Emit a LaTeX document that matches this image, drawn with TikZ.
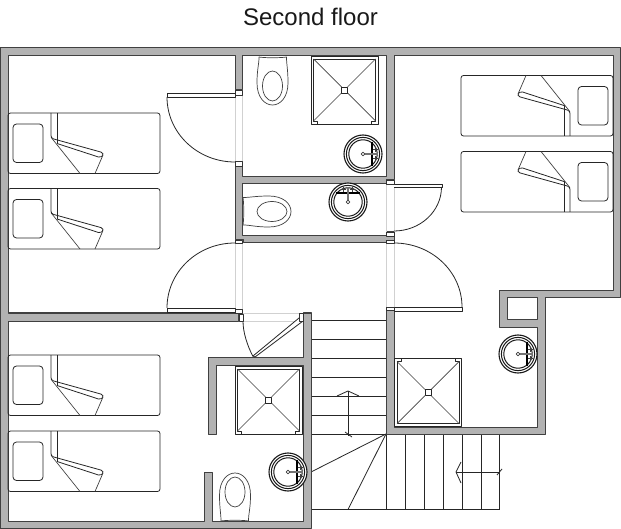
\documentclass[tikz,border=0pt]{standalone}
\usepackage{fontspec}
\setmainfont{Liberation Sans}
\begin{document}
\begin{tikzpicture}[x=1pt,y=-1pt,line join=round,
  ln/.style={draw=black!85,line width=0.8pt},
  thin ln/.style={draw=black!75,line width=0.7pt},
  wallstyle/.style={draw=black!75,line width=1pt,fill=black!30,even odd rule},
  opening/.style={draw=black!18,line width=0.7pt},
  leaf/.style={ln,fill=white},
  jamb/.style={draw=black!80,line width=0.7pt,fill=white},
  bed/.pic={
    \draw[ln,rounded corners=2.5pt] (0,0) rectangle (152,60.5);
    \draw[ln,rounded corners=3.5pt] (5,11) rectangle (35,49.5);
    \draw[ln,rounded corners=1.5pt] (43,0) -- (43,24) -- (44,25.5) -- (94.5,39.5) -- (95.5,42) -- (92,44.5) -- (49,30.5);
    \draw[ln] (49,0) -- (49,30.5);
    \draw[thin ln] (44,25.5) -- (72,60.5);
    \draw[thin ln] (95,42) -- (87,60.5);
  },
  toilet/.pic={
    \draw[thin ln,fill=white] (-13.5,0) .. controls (-8,1) and (8,1) .. (14,0)
      .. controls (14,8) and (15.5,12) .. (15.5,26)
      .. controls (15.5,40) and (8,48) .. (0,48)
      .. controls (-8,48) and (-15.5,40) .. (-15.5,26)
      .. controls (-15.5,12) and (-13.5,8) .. (-13.5,0) -- cycle;
    \draw[thin ln] (0,29) ellipse [x radius=10,y radius=15];
  },
  sink/.pic={
    \draw[draw=black!90,line width=1.1pt,fill=white] (0,0) circle [radius=19];
    \draw[draw=black!90,line width=1pt] (0,0) circle [radius=16.6];
    \draw[draw=black!90,line width=1pt] (0,0) circle [radius=14.2];
    \draw[draw=black,line width=1.3pt] (9,-12) -- (9,12);
    \draw[draw=black!55,line width=2.6pt] (1,0) -- (15,0);
    \draw[thin ln] (10,-4.5) -- (15,-4.5) (12.5,-7) -- (12.5,-2);
    \draw[thin ln] (10,4.5) -- (15,4.5) (12.5,7) -- (12.5,2);
    \draw[thin ln,fill=white] (0,0) circle [radius=1.8];
  },
  shower/.pic={
    \draw[ln,fill=white] (-33.5,-34) rectangle (33.5,34);
    \draw[ln] (-27,34) -- (-27,31) -- (-31,31) -- (-31,-31) -- (31,-31) -- (31,31) -- (27,31) -- (27,34);
    \draw[thin ln] (-31,-31) -- (-3,-3) (31,-31) -- (3,-3) (-31,31) -- (-3,3) (31,31) -- (3,3);
    \draw[ln] (-3,-3) rectangle (3,3);
  }]
\useasboundingbox (0,0) rectangle (621,529);
\fill[white] (0,0) rectangle (621,529);
\node[text=black!90,font=\fontsize{24}{28}\selectfont] (title) at (310.5,17) {Second floor};

% stairs
\foreach \y in {320,339,358,377,396,415,434} \draw[ln] (311,\y) -- (386,\y);
\foreach \x in {386,405,424,443,462,481,499} \draw[ln] (\x,434) -- (\x,509.5);
\draw[ln] (311,509.5) -- (499,509.5);
\draw[ln] (386,434) -- (499,434);
\draw[ln] (386,434) -- (311,472);
\draw[ln] (386,434) -- (348,509.5);
\draw[ln] (348,391) -- (348,436);
\draw[ln] (337,396) -- (348,391) -- (359,396);
\draw[ln] (345,432) -- (352,437);
\draw[ln] (456,472) -- (500,472);
\draw[ln] (461,462) -- (456,472) -- (461,483);
\draw[ln] (497,475) -- (502,469);

% walls
\draw[wallstyle] (8,56) -- (235,56) -- (235,90) -- (242,90) -- (242,56) -- (386,56) -- (386,177) -- (242,177) -- (242,162) -- (235,162)
 -- (235,240) -- (243,240) -- (243,243) -- (394,243) -- (394,232) -- (386,232) -- (386,236) -- (242,236) -- (242,184) -- (386,184) -- (386,180) -- (394,180)
 -- (394,56) -- (613,56) -- (613,291) -- (499,291) -- (499,327) -- (537,327) -- (537,427) -- (394,427) -- (394,310) -- (386,310) -- (386,434)
 -- (545,434) -- (545,298) -- (620,298) -- (620,48) -- (0,48) -- (0,528) -- (311,528) -- (311,313) -- (303,313) -- (303,357) -- (208,357) -- (208,434) -- (216,434)
 -- (216,365) -- (303,365) -- (303,521) -- (212,521) -- (212,472) -- (204,472) -- (204,521) -- (8,521) -- (8,321) -- (238,321) -- (238,313) -- (8,313) -- cycle
 (507,298) rectangle (537,319);

% openings
\draw[opening] (235,95) -- (235,162) (242,95) -- (242,162);
\draw[opening] (386,184) -- (386,232) (394,184) -- (394,232);
\draw[opening] (235,243) -- (235,313) (242,243) -- (242,313);
\draw[opening] (386,243) -- (386,310) (394,243) -- (394,310);
\draw[opening] (243,313) -- (303,313) (243,321) -- (303,321);

% doors
\draw[leaf] (167,93) -- (235,93) -- (235,97) -- (167,97) -- cycle;
\draw[ln] (167,97) .. controls (167,133) and (197.4,162) .. (235,162);
\draw[leaf] (394,184) -- (442,184) -- (442,187) -- (394,187);
\draw[ln] (441.5,187) .. controls (441.5,211.3) and (420.2,231) .. (394,231);
\draw[leaf] (167,308) rectangle (235,312);
\draw[ln] (167,308) .. controls (167,272) and (197.4,243) .. (235,243);
\draw[leaf] (394,307) rectangle (462,311);
\draw[ln] (462,307) .. controls (462,271.7) and (431.6,243) .. (394,243);
\draw[leaf] (253,356) -- (299,318) -- (303,321) -- (255,357) -- cycle;
\draw[ln] (243,321) .. controls (243,332) and (247,345) .. (253,356.5);

% jambs
\draw[jamb] (235,90) rectangle (242,95);
\draw[jamb] (235,161) rectangle (242,166);
\draw[jamb] (386,180) rectangle (394,184);
\draw[jamb] (386,232) rectangle (394,236);
\draw[jamb] (235,240) rectangle (242,243);
\draw[jamb] (386,240) rectangle (394,243);
\draw[jamb] (235,309) rectangle (242,313);
\draw[jamb] (386,307) rectangle (394,310);
\draw[jamb] (239,314) rectangle (243,321);
\draw[jamb] (299,313) rectangle (303,321);

% beds
\pic at (8,113) {bed};
\pic at (8,188.5) {bed};
\pic at (8,355) {bed};
\pic at (8,431) {bed};
\pic[rotate=180] at (613,136) {bed};
\pic[rotate=180] at (613,212) {bed};

% showers
\pic at (344.5,90) {shower};
\pic at (268.5,400) {shower};
\pic[rotate=180] at (428,392.5) {shower};

% toilets
\pic at (272.5,57) {toilet};
\pic[rotate=180] at (235,521) {toilet};
\pic[rotate=90] at (243,211.5) {toilet};

% sinks
\pic at (363,154) {sink};
\pic[rotate=90] at (348,202) {sink};
\pic at (518,354) {sink};
\pic at (288,472) {sink};
\end{tikzpicture}
\end{document}
